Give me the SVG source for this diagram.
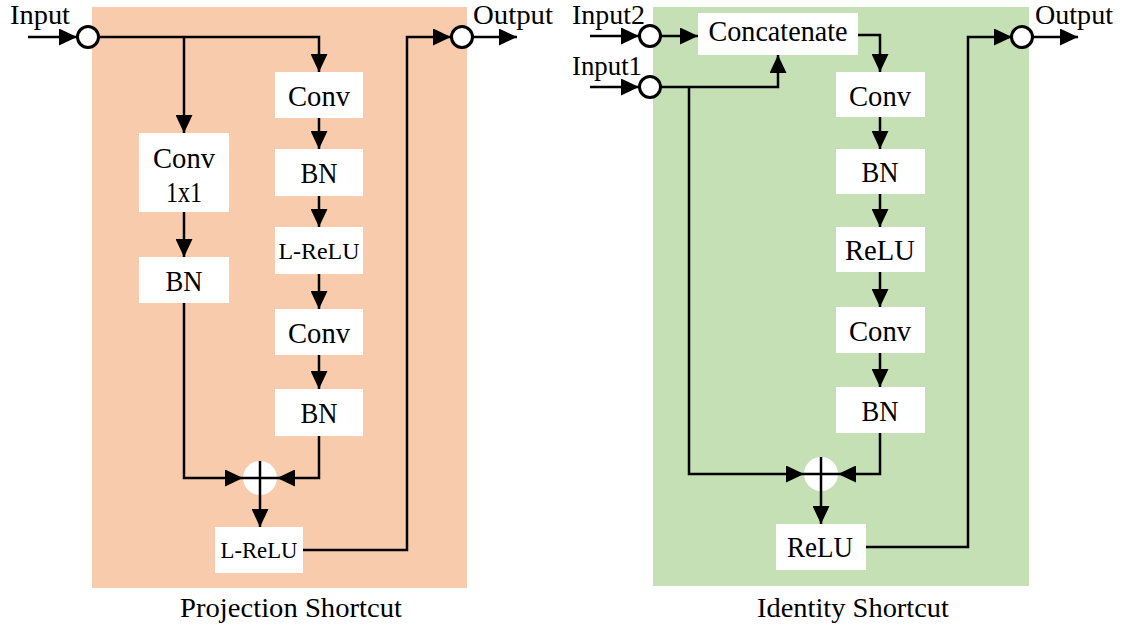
<svg xmlns="http://www.w3.org/2000/svg" width="1129" height="628" viewBox="0 0 1129 628" font-family="'Liberation Serif', 'Times New Roman', Times, serif">
  <style>
    .panel-proj { fill: #F8CBAD; }
    .panel-id { fill: #C5E0B4; }
    .box { fill: #FFFFFF; }
    .port { fill: #FFFFFF; stroke: #000000; stroke-width: 3; }
    .sum { fill: #FFFFFF; }
    .wire { fill: none; stroke: #000000; stroke-width: 2.5; }
    .arrow { fill: none; stroke: #000000; stroke-width: 2.5; marker-end: url(#head); }
    text { font-family: 'Liberation Serif', 'Times New Roman', Times, serif; fill: #000000; }
    text.lbl { font-size: 29px; text-anchor: middle; }
    text.sm { font-size: 24px; text-anchor: middle; }
    text.io { font-size: 27px; }
    text.cap { font-size: 27px; text-anchor: middle; }
  </style>
  <defs>
    <marker id="head" markerUnits="userSpaceOnUse" markerWidth="18" markerHeight="17" refX="18" refY="8.5" orient="auto">
      <path d="M0,0 L18,8.5 L0,17 Z" fill="#000000"/>
    </marker>
  </defs>

  <!-- background panels -->
  <rect class="panel-proj" x="92" y="7" width="375" height="581"/>
  <rect class="panel-id" x="653" y="7" width="376" height="579"/>

  <!-- connectors -->
  <g id="connectors">
    <!-- projection shortcut block -->
    <path class="arrow" d="M28 37 H77"/>
    <path class="arrow" d="M99 37 H319 V72"/>
    <path class="arrow" d="M184 37 V133"/>
    <path class="arrow" d="M319 118 V149"/>
    <path class="arrow" d="M319 196 V227"/>
    <path class="arrow" d="M319 274 V309"/>
    <path class="arrow" d="M319 355 V389"/>
    <path class="arrow" d="M184 212 V257"/>
    <path class="arrow" d="M184 303 V478 H243"/>
    <path class="arrow" d="M319 436 V478 H277"/>
    <path class="arrow" d="M260 461 V527"/>
    <path class="arrow" d="M303 550 H407 V37 H451"/>
    <path class="arrow" d="M473 37 H517"/>

    <!-- identity shortcut block -->
    <path class="arrow" d="M590 36 H639"/>
    <path class="arrow" d="M590 87 H639"/>
    <path class="arrow" d="M661 36 H698"/>
    <path class="arrow" d="M661 87 H778 V55"/>
    <path class="arrow" d="M689 87 V474 H804"/>
    <path class="arrow" d="M858 35 H880 V72"/>
    <path class="arrow" d="M880 117 V149"/>
    <path class="arrow" d="M880 194 V227"/>
    <path class="arrow" d="M880 272 V307"/>
    <path class="arrow" d="M880 353 V387"/>
    <path class="arrow" d="M880 433 V474 H838"/>
    <path class="arrow" d="M821 457 V524"/>
    <path class="arrow" d="M866 547 H968 V37 H1012"/>
    <path class="arrow" d="M1033 37 H1078"/>
  </g>

  <!-- projection shortcut nodes -->
  <g id="p-input">
    <circle class="port" cx="88" cy="37" r="10.5"/>
    <text class="io" x="10" y="24" textLength="60" lengthAdjust="spacingAndGlyphs">Input</text>
  </g>
  <g id="p-conv1">
    <rect class="box" x="275" y="72" width="88" height="46"/>
    <text class="lbl" x="319" y="106" textLength="62" lengthAdjust="spacingAndGlyphs">Conv</text>
  </g>
  <g id="p-bn1">
    <rect class="box" x="275" y="149" width="88" height="47"/>
    <text class="lbl" x="319" y="183" textLength="37" lengthAdjust="spacingAndGlyphs">BN</text>
  </g>
  <g id="p-lrelu1">
    <rect class="box" x="275" y="227" width="88" height="47"/>
    <text class="sm" x="319" y="259" textLength="81" lengthAdjust="spacingAndGlyphs">L-ReLU</text>
  </g>
  <g id="p-conv2">
    <rect class="box" x="275" y="309" width="88" height="46"/>
    <text class="lbl" x="319" y="343" textLength="62" lengthAdjust="spacingAndGlyphs">Conv</text>
  </g>
  <g id="p-bn2">
    <rect class="box" x="275" y="389" width="88" height="47"/>
    <text class="lbl" x="319" y="423" textLength="37" lengthAdjust="spacingAndGlyphs">BN</text>
  </g>
  <g id="p-conv1x1">
    <rect class="box" x="139" y="133" width="90" height="79"/>
    <text class="lbl" x="184" y="168" textLength="62" lengthAdjust="spacingAndGlyphs">Conv</text>
    <text class="lbl" x="184" y="202" textLength="36" lengthAdjust="spacingAndGlyphs">1x1</text>
  </g>
  <g id="p-bn-short">
    <rect class="box" x="139" y="257" width="90" height="46"/>
    <text class="lbl" x="184" y="291" textLength="37" lengthAdjust="spacingAndGlyphs">BN</text>
  </g>
  <g id="p-sum">
    <circle class="sum" cx="260" cy="478" r="17"/>
    <path class="wire" d="M243 478 H277 M260 461 V495"/>
  </g>
  <g id="p-lrelu-out">
    <rect class="box" x="215" y="527" width="88" height="46"/>
    <text class="sm" x="259" y="558" textLength="77" lengthAdjust="spacingAndGlyphs">L-ReLU</text>
  </g>
  <g id="p-output">
    <circle class="port" cx="462" cy="37" r="10.5"/>
    <text class="io" x="473" y="24" textLength="80" lengthAdjust="spacingAndGlyphs">Output</text>
  </g>
  <text class="cap" x="291" y="617" textLength="222" lengthAdjust="spacingAndGlyphs">Projection Shortcut</text>

  <!-- identity shortcut nodes -->
  <g id="i-input2">
    <circle class="port" cx="650" cy="36" r="10.5"/>
    <text class="io" x="572" y="24" textLength="73" lengthAdjust="spacingAndGlyphs">Input2</text>
  </g>
  <g id="i-input1">
    <circle class="port" cx="650" cy="87" r="10.5"/>
    <text class="io" x="572" y="75" textLength="70" lengthAdjust="spacingAndGlyphs">Input1</text>
  </g>
  <g id="i-concat">
    <rect class="box" x="698" y="13" width="160" height="42"/>
    <text class="lbl" x="778" y="41" textLength="139" lengthAdjust="spacingAndGlyphs">Concatenate</text>
  </g>
  <g id="i-conv1">
    <rect class="box" x="836" y="72" width="89" height="45"/>
    <text class="lbl" x="880" y="106" textLength="62" lengthAdjust="spacingAndGlyphs">Conv</text>
  </g>
  <g id="i-bn1">
    <rect class="box" x="836" y="149" width="89" height="45"/>
    <text class="lbl" x="880" y="182" textLength="37" lengthAdjust="spacingAndGlyphs">BN</text>
  </g>
  <g id="i-relu1">
    <rect class="box" x="836" y="227" width="89" height="45"/>
    <text class="lbl" x="880" y="260" textLength="70" lengthAdjust="spacingAndGlyphs">ReLU</text>
  </g>
  <g id="i-conv2">
    <rect class="box" x="836" y="307" width="89" height="46"/>
    <text class="lbl" x="880" y="341" textLength="62" lengthAdjust="spacingAndGlyphs">Conv</text>
  </g>
  <g id="i-bn2">
    <rect class="box" x="836" y="387" width="89" height="46"/>
    <text class="lbl" x="880" y="421" textLength="37" lengthAdjust="spacingAndGlyphs">BN</text>
  </g>
  <g id="i-sum">
    <circle class="sum" cx="821" cy="474" r="17"/>
    <path class="wire" d="M804 474 H838 M821 457 V491"/>
  </g>
  <g id="i-relu-out">
    <rect class="box" x="776" y="524" width="90" height="46"/>
    <text class="lbl" x="820" y="557" textLength="66" lengthAdjust="spacingAndGlyphs">ReLU</text>
  </g>
  <g id="i-output">
    <circle class="port" cx="1022" cy="37" r="10.5"/>
    <text class="io" x="1035" y="24" textLength="78" lengthAdjust="spacingAndGlyphs">Output</text>
  </g>
  <text class="cap" x="853" y="617" textLength="192" lengthAdjust="spacingAndGlyphs">Identity Shortcut</text>
</svg>
